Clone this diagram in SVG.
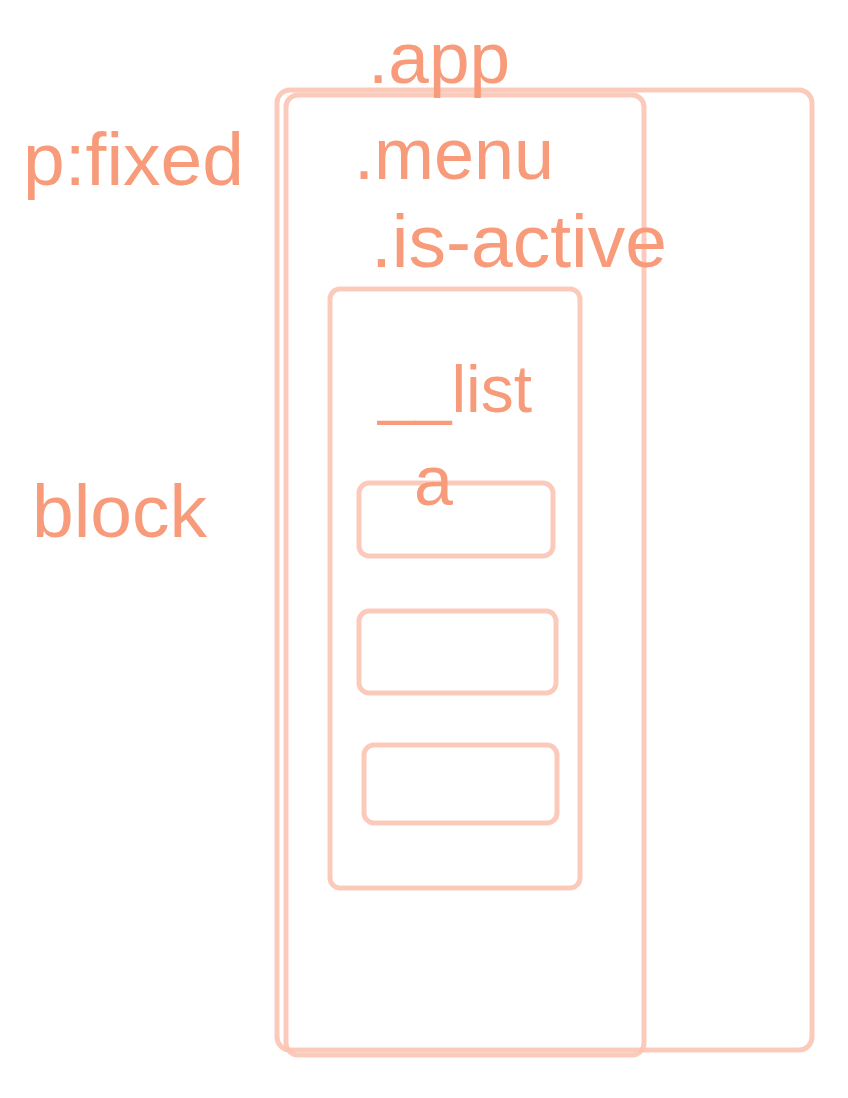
<svg xmlns="http://www.w3.org/2000/svg" width="848" height="1098" viewBox="0 0 848 1098">
<style>
.box{fill:none;stroke:#FCC4B3;stroke-width:5;stroke-opacity:0.9}
.lbl{font-family:"Liberation Sans",Arial,sans-serif;fill:#F89B7A}
</style>
<rect width="848" height="1098" fill="#FFFFFF"/>
<g id="app"><rect class="box" x="277" y="90" width="535" height="960" rx="13"/></g>
<g id="menu"><rect class="box" x="286" y="95" width="358" height="960" rx="12"/></g>
<g id="list"><rect class="box" x="330" y="289" width="250" height="599" rx="10"/></g>
<g id="item1"><rect class="box" x="359" y="483" width="194" height="73" rx="10"/></g>
<g id="item2"><rect class="box" x="359" y="611" width="197" height="82" rx="10"/></g>
<g id="item3"><rect class="box" x="364" y="745" width="193" height="78" rx="10"/></g>
<g id="connectors"></g>
<g id="labels">
<text class="lbl" x="368" y="83" font-size="73">.app</text>
<text class="lbl" x="354" y="179" font-size="72">.menu</text>
<text class="lbl" x="371" y="267" font-size="75">.is-active</text>
<text class="lbl" x="23" y="185" font-size="75">p:fixed</text>
<text class="lbl" x="32" y="537" font-size="75">block</text>
<text class="lbl" x="378" y="412" font-size="66">__list</text>
<text class="lbl" x="414" y="505" font-size="70">a</text>
</g>
</svg>
